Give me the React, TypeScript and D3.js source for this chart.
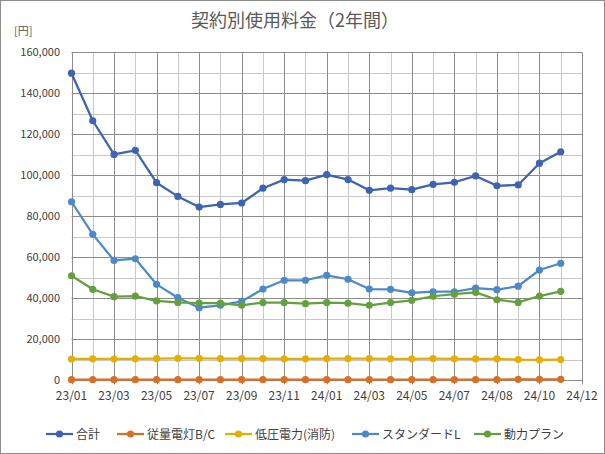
import React from "react";
import * as d3 from "d3";

const months = ["23/01","23/02","23/03","23/04","23/05","23/06","23/07","23/08","23/09","23/10","23/11","23/12","24/01","24/02","24/03","24/04","24/05","24/06","24/07","24/08","24/09","24/10","24/11","24/12"];
const tickLabels = ["23/01","23/03","23/05","23/07","23/09","23/11","24/01","24/03","24/05","24/07","24/08","24/10","24/12"];
const yTicks = [0, 20000, 40000, 60000, 80000, 100000, 120000, 140000, 160000];

const total = [149800,126600,110200,112200,96400,89700,84500,85800,86500,93700,97900,97400,100300,97900,92700,93700,93000,95600,96600,99700,94900,95300,105900,111500];
const juryo = [300,300,300,300,300,300,300,300,300,300,300,300,300,300,300,300,300,300,300,300,300,500,500,500];
const teiatsu = [10400,10500,10400,10500,10600,10700,10700,10600,10600,10600,10500,10500,10600,10600,10600,10500,10500,10600,10500,10500,10500,10100,10000,10100];
const standard = [87100,71200,58500,59300,46800,40300,35400,36600,38500,44500,48800,48800,51200,49300,44500,44400,42700,43200,43200,45000,44200,45900,53800,57100];
const douryoku = [51000,44400,40800,41100,38700,38000,37600,37600,36600,37900,37900,37400,37900,37600,36600,37900,39000,41000,42000,42900,39300,38000,41100,43400];

const seriesNames = ["合計","従量電灯B/C","低圧電力(消防)","スタンダードL","動力プラン"];
const seriesData = [total, juryo, teiatsu, standard, douryoku];
const colors = ["#3E63B1","#D76F27","#E5AF00","#4D89C9","#64A13E"];

const W = 605, H = 454;
const FONT = "'Noto Sans CJK JP', 'Noto Sans', sans-serif";

export default function App() {
  const x = d3.scaleLinear().domain([0, 24]).range([71.5, 582]);
  const y = d3.scaleLinear().domain([0, 160000]).range([380.3, 52.3]);
  const line = d3.line<number>().x((_, i) => x(i)).y(d => y(d));
  const minorY = d3.range(10000, 160001, 20000);
  const legendX = [46, 117, 225, 352, 474];

  return (
    <svg width={W} height={H} style={{ position: "absolute", left: 0, top: 0, background: "#fff" }}>
      <rect x={0.5} y={0.5} width={W - 1} height={H - 1} fill="#fff" stroke="#8c8c8c" />
      <text x={295} y={27} textAnchor="middle" fontFamily={FONT} fontSize={18} fill="#595959">契約別使用料金（2年間）</text>
      <text x={14} y={35} fontFamily={FONT} fontSize={11} fill="#595959">[円]</text>
      {minorY.map(v => (
        <line key={"mh" + v} x1={x(0)} x2={x(24)} y1={Math.round(y(v)) + 0.5} y2={Math.round(y(v)) + 0.5} stroke="#c8c8c8" />
      ))}
      {d3.range(1, 25, 2).map(i => (
        <line key={"mv" + i} x1={Math.round(x(i)) + 0.5} x2={Math.round(x(i)) + 0.5} y1={y(160000)} y2={y(0)} stroke="#c8c8c8" />
      ))}
      {yTicks.slice(1).map(v => (
        <line key={"h" + v} x1={x(0)} x2={x(24)} y1={Math.round(y(v)) + 0.5} y2={Math.round(y(v)) + 0.5} stroke="#8c8c8c" />
      ))}
      {tickLabels.map((_, k) => (
        <line key={"v" + k} x1={Math.round(x(k * 2)) + 0.5} x2={Math.round(x(k * 2)) + 0.5} y1={y(160000)} y2={y(0) + 4} stroke="#8c8c8c" />
      ))}
      <line x1={x(0)} x2={x(24)} y1={Math.round(y(0)) + 0.5} y2={Math.round(y(0)) + 0.5} stroke="#8c8c8c" />
      {yTicks.map(v => (
        <text key={"yt" + v} x={60} y={y(v) + 4} textAnchor="end" fontFamily={FONT} fontSize={11} fill="#404040">
          {d3.format(",")(v)}
        </text>
      ))}
      {tickLabels.map((t, k) => (
        <text key={"xt" + k} x={x(k * 2)} y={400} textAnchor="middle" fontFamily={FONT} fontSize={12} fill="#404040">{t}</text>
      ))}
      {seriesData.map((s, si) => (
        <g key={"s" + si}>
          <path d={line(s) || ""} fill="none" stroke={colors[si]} strokeWidth={2.25} strokeLinejoin="round" />
          {s.map((v, i) => (
            <circle key={i} cx={x(i)} cy={y(v)} r={3.6} fill={colors[si]} />
          ))}
        </g>
      ))}
      {seriesNames.map((n, si) => (
        <g key={"lg" + si}>
          <line x1={legendX[si]} x2={legendX[si] + 27} y1={434} y2={434} stroke={colors[si]} strokeWidth={2.25} />
          <circle cx={legendX[si] + 13.5} cy={434} r={3.6} fill={colors[si]} />
          <text x={legendX[si] + 30} y={438.5} fontFamily={FONT} fontSize={12} fill="#404040">{n}</text>
        </g>
      ))}
    </svg>
  );
}
